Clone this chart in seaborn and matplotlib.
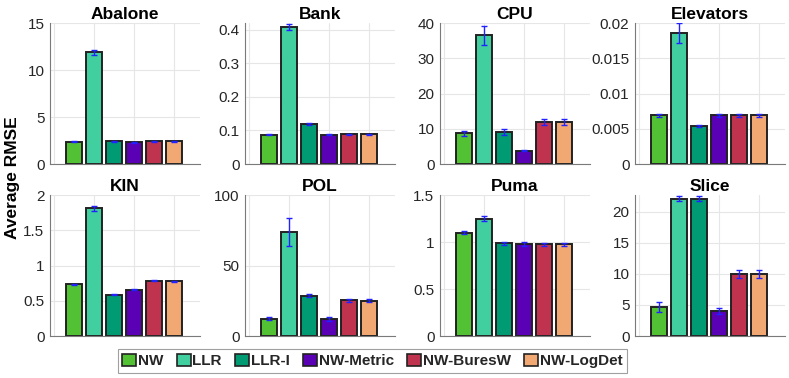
import numpy as np
import pandas as pd
import matplotlib
matplotlib.use("Agg")
import matplotlib.pyplot as plt
import seaborn as sns
from matplotlib.patches import Patch

methods = ["NW", "LLR", "LLR-I", "NW-Metric", "NW-BuresW", "NW-LogDet"]
colors = ["#52C234", "#42CFA0", "#009B72", "#5A00B5", "#C0334F", "#F2A873"]

datasets = ["Abalone", "Bank", "CPU", "Elevators", "KIN", "POL", "Puma", "Slice"]

abalone_mean = [2.35, 11.9, 2.4, 2.3, 2.4, 2.4]
abalone_err = [0.05, 0.25, 0.05, 0.05, 0.05, 0.05]
bank_mean = [0.088, 0.408, 0.118, 0.088, 0.089, 0.089]
bank_err = [0.002, 0.01, 0.003, 0.002, 0.002, 0.002]
cpu_mean = [8.8, 36.5, 9.1, 3.8, 12.0, 12.0]
cpu_err = [0.7, 2.7, 0.9, 0.1, 0.9, 0.9]
elev_mean = [0.0069, 0.0186, 0.0054, 0.0069, 0.0069, 0.0069]
elev_err = [0.0002, 0.0014, 0.0002, 0.0002, 0.0002, 0.0002]
kin_mean = [0.735, 1.81, 0.585, 0.66, 0.785, 0.775]
kin_err = [0.01, 0.03, 0.005, 0.005, 0.01, 0.01]
pol_mean = [12.2, 74.0, 28.5, 12.2, 25.3, 25.0]
pol_err = [1.0, 10.0, 1.0, 1.2, 1.0, 1.0]
puma_mean = [1.10, 1.25, 0.985, 0.98, 0.975, 0.975]
puma_err = [0.015, 0.03, 0.02, 0.02, 0.015, 0.015]
slice_mean = [4.7, 22.1, 22.1, 4.0, 10.0, 10.0]
slice_err = [0.8, 0.4, 0.4, 0.5, 0.7, 0.7]

means = [abalone_mean, bank_mean, cpu_mean, elev_mean, kin_mean, pol_mean, puma_mean, slice_mean]
errs = [abalone_err, bank_err, cpu_err, elev_err, kin_err, pol_err, puma_err, slice_err]

ylims = [(0, 15), (0, 0.42), (0, 40), (0, 0.02), (0, 2), (0, 100), (0, 1.5), (0, 22.7)]
yticks = [[0, 5, 10, 15], [0, 0.1, 0.2, 0.3, 0.4], [0, 10, 20, 30, 40],
          [0, 0.005, 0.01, 0.015, 0.02], [0, 0.5, 1, 1.5, 2], [0, 50, 100],
          [0, 0.5, 1, 1.5], [0, 5, 10, 15, 20]]
yticklabels = [["0", "5", "10", "15"], ["0", "0.1", "0.2", "0.3", "0.4"],
               ["0", "10", "20", "30", "40"], ["0", "0.005", "0.01", "0.015", "0.02"],
               ["0", "0.5", "1", "1.5", "2"], ["0", "50", "100"],
               ["0", "0.5", "1", "1.5"], ["0", "5", "10", "15", "20"]]

sns.set_theme(style="white")
plt.rcParams["font.family"] = ["Liberation Sans", "DejaVu Sans"]

fig = plt.figure(figsize=(7.89, 3.78), dpi=100)
lefts = [0.0634, 0.3105, 0.5577, 0.8048]
bottoms = [0.566, 0.111]
w, h = 0.190, 0.373

for i, name in enumerate(datasets):
    r, c = divmod(i, 4)
    ax = fig.add_axes([lefts[c], bottoms[r], w, h])
    df = pd.DataFrame({"method": methods, "value": means[i]})
    sns.barplot(data=df, x="method", y="value", hue="method", palette=colors,
                order=methods, hue_order=methods, legend=False, ax=ax,
                width=0.8, edgecolor="#222222", linewidth=1.4, errorbar=None,
                saturation=1)
    ax.errorbar(np.arange(6), means[i], yerr=errs[i], fmt="none",
                ecolor="#2222ff", elinewidth=1.0, capsize=2.5, capthick=1.0, zorder=5)
    ax.set_xlim(-1.2, 6.3)
    ax.set_ylim(*ylims[i])
    ax.set_xticks([-1, 1, 3, 5])
    ax.set_xticklabels([])
    ax.set_yticks(yticks[i])
    ax.set_yticklabels(yticklabels[i])
    ax.set_xlabel("")
    ax.set_ylabel("")
    ax.set_title(name, fontsize=12.5, fontweight="bold", pad=3, color="black")
    ax.grid(True, color="#e6e6e6", linewidth=0.8)
    ax.set_axisbelow(True)
    for s in ["top", "right"]:
        ax.spines[s].set_visible(False)
    for s in ["left", "bottom"]:
        ax.spines[s].set_color("#7a7a7a")
        ax.spines[s].set_linewidth(0.8)
    ax.tick_params(axis="y", labelsize=11, colors="#262626", direction="in",
                   length=2, width=0.6, pad=4)
    ax.tick_params(axis="x", length=0)

fig.text(0.016, 0.53, "Average RMSE", rotation=90, ha="center", va="center",
         fontsize=12.5, fontweight="bold", color="black")

handles = [Patch(facecolor=col, edgecolor="#222222", linewidth=1.2, label=m)
           for m, col in zip(methods, colors)]
leg = fig.legend(handles=handles, loc="center", bbox_to_anchor=(0.472, 0.045),
                 ncol=6, frameon=True, handlelength=0.9, handleheight=0.9,
                 handletextpad=0.1, columnspacing=0.9, borderpad=0.3,
                 prop={"weight": "bold", "size": 11})
leg.get_frame().set_edgecolor("#888888")
leg.get_frame().set_linewidth(0.8)
leg.get_frame().set_boxstyle("square", pad=0)

fig.savefig("out.png", dpi=100)
